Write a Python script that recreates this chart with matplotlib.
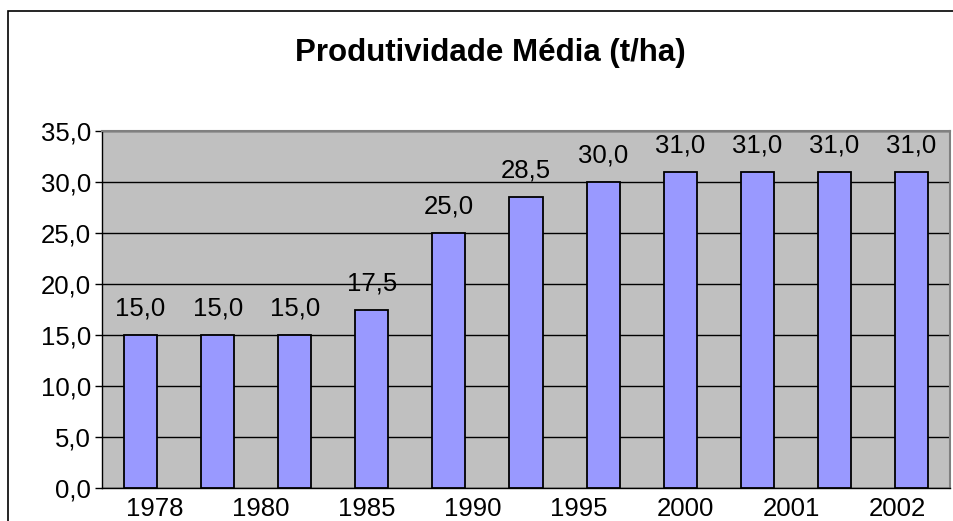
import matplotlib
matplotlib.use("Agg")
import matplotlib.pyplot as plt
from matplotlib.patches import Rectangle

plt.rcParams['font.family'] = ['Liberation Sans', 'DejaVu Sans']

# data
values = [15.0, 15.0, 15.0, 17.5, 25.0, 28.5, 30.0, 31.0, 31.0, 31.0, 31.0]
year_labels = ['1978', '1980', '1985', '1990', '1995', '2000', '2001', '2002']
yticks = [0, 5, 10, 15, 20, 25, 30, 35]

fig = plt.figure(figsize=(9.54, 5.21), dpi=100)
# chart frame (runs off the right/bottom edge like the original)
fig.patches.append(Rectangle((8 / 954, -0.1), 1.2, 1 - 11 / 521 + 0.1,
                             transform=fig.transFigure, fill=False,
                             edgecolor='black', linewidth=1.2))

ax = fig.add_axes([102 / 954, 1 - 488 / 521, 848 / 954, 357 / 521])
ax.set_facecolor('#C0C0C0')

x = list(range(len(values)))
ax.bar(x, values, width=0.43, color='#9999FF', edgecolor='black',
       linewidth=1.3, zorder=3)
for xi, v in zip(x, values):
    ax.annotate(f"{v:.1f}".replace('.', ','), (xi, v), xytext=(0, 14),
                textcoords='offset points', ha='center', va='baseline',
                fontsize=18.5, zorder=4)

ax.set_xlim(-0.5, len(values) - 0.5)
ax.set_ylim(0, 35)
ax.set_yticks(yticks)
ax.set_yticklabels([f"{t:.1f}".replace('.', ',') for t in yticks], fontsize=18.5)
ax.tick_params(axis='y', direction='out', length=5, width=1, pad=3)
ax.grid(axis='y', color='black', linewidth=1, zorder=1)
ax.set_axisbelow(True)

# category labels: evenly spread over the axis (as in the source chart)
ax.set_xticks([])
n = len(year_labels)
for i, lab in enumerate(year_labels):
    ax.text((i + 0.5) / n, -0.025, lab, transform=ax.transAxes,
            ha='center', va='top', fontsize=18.5)

for side in ['top', 'right']:
    ax.spines[side].set_color('#808080')
    ax.spines[side].set_linewidth(1.5)
for side in ['left', 'bottom']:
    ax.spines[side].set_color('black')
    ax.spines[side].set_linewidth(1)

fig.text(490 / 954, 1 - 53 / 521, 'Produtividade Média (t/ha)',
         ha='center', va='center', fontsize=22.5, fontweight='bold')

fig.savefig('out.png', dpi=100)
